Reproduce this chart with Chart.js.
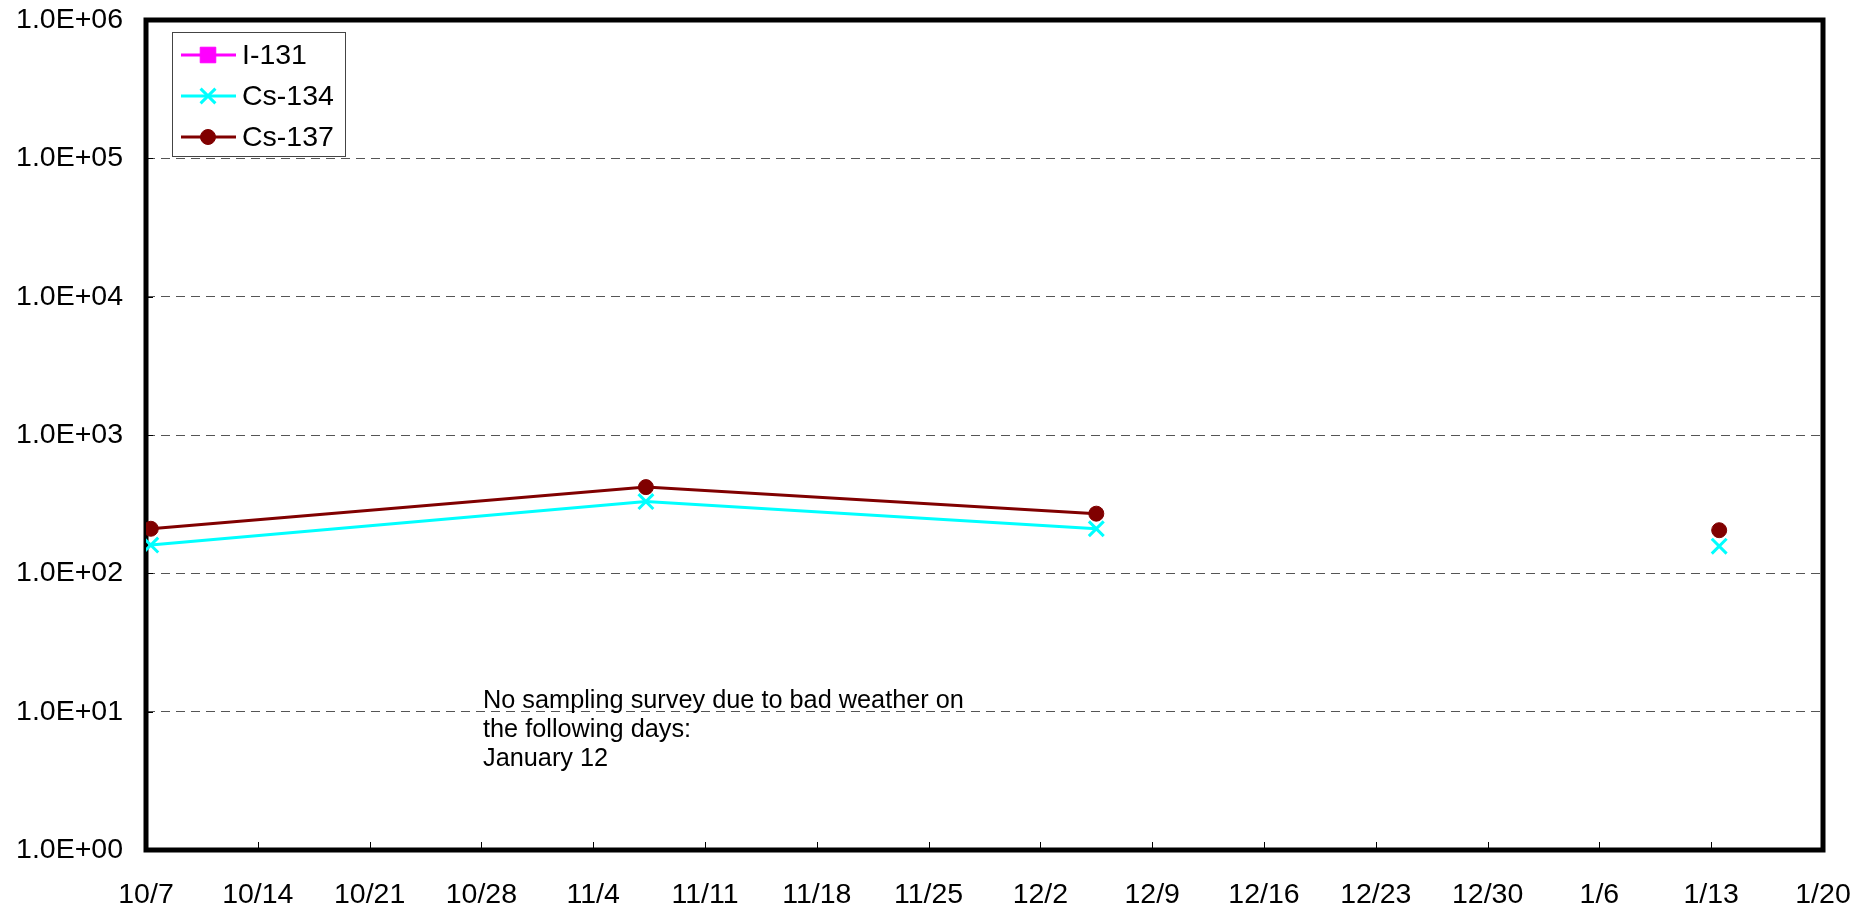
<!DOCTYPE html>
<html>
<head>
<meta charset="utf-8">
<script src="https://cdn.jsdelivr.net/npm/chart.js@4/dist/chart.umd.min.js"></script>
<style>
  html, body { margin: 0; padding: 0; background: #fff; }
</style>
</head>
<body>
<canvas id="chart" width="1869" height="908"></canvas>
<script>
// x axis: days counted from 10/7, one label per week
const xTickLabels = ['10/7', '10/14', '10/21', '10/28', '11/4', '11/11', '11/18', '11/25',
  '12/2', '12/9', '12/16', '12/23', '12/30', '1/6', '1/13', '1/20'];
const sampleDays = [0.3, 31.3, 59.5, 97, 98.5];   // 97 = 1/12, no sampling
const i131 = [null, null, null, null, null];
const cs134 = [160, 330, 210, null, 157];
const cs137 = [210, 420, 270, null, 205];

const yTickValues = [1, 10, 100, 1000, 10000, 100000, 1000000];
const yTickLabels = ['1.0E+00', '1.0E+01', '1.0E+02', '1.0E+03', '1.0E+04', '1.0E+05', '1.0E+06'];

const noteLines = ['No sampling survey due to bad weather on', 'the following days:', 'January 12'];

const FONT = '"Liberation Sans", Arial, sans-serif';

function points(values) {
  return sampleDays.map((d, i) => ({ x: d, y: values[i] }));
}

const framePlugin = {
  id: 'frame',
  beforeDatasetsDraw(chart) {
    const { ctx, chartArea: a, scales } = chart;
    ctx.save();
    // inner tick marks
    ctx.strokeStyle = '#000';
    ctx.lineWidth = 1;
    ctx.beginPath();
    scales.x.ticks.forEach(t => {
      const px = Math.round(scales.x.getPixelForValue(t.value)) + 0.5;
      ctx.moveTo(px, a.bottom);
      ctx.lineTo(px, a.bottom - 8);
    });
    scales.y.ticks.forEach(t => {
      const py = Math.round(scales.y.getPixelForValue(t.value)) + 0.5;
      ctx.moveTo(a.left, py);
      ctx.lineTo(a.left + 7, py);
    });
    ctx.stroke();
    // heavy frame
    ctx.lineWidth = 5;
    ctx.strokeRect(a.left, a.top, a.right - a.left, a.bottom - a.top);
    ctx.restore();
  },
  afterDraw(chart) {
    const { ctx, chartArea: a } = chart;
    ctx.save();
    // legend box
    const bx = a.left + 26, by = a.top + 12, bw = 173, bh = 124;
    ctx.fillStyle = '#fff';
    ctx.fillRect(bx, by, bw, bh);
    ctx.strokeStyle = '#444';
    ctx.lineWidth = 1;
    ctx.strokeRect(bx + 0.5, by + 0.5, bw, bh);
    chart.data.datasets.forEach((ds, i) => {
      const cy = by + 23 + i * 41;
      ctx.strokeStyle = ds.borderColor;
      ctx.lineWidth = ds.borderWidth;
      ctx.beginPath();
      ctx.moveTo(bx + 9, cy);
      ctx.lineTo(bx + 64, cy);
      ctx.stroke();
      ctx.fillStyle = ds.pointBackgroundColor;
      ctx.strokeStyle = ds.pointBorderColor;
      ctx.lineWidth = ds.pointBorderWidth;
      Chart.helpers.drawPoint(ctx, {
        pointStyle: ds.pointStyle, radius: ds.pointRadius,
        borderWidth: ds.pointBorderWidth, rotation: 0
      }, bx + 36, cy);
      ctx.fillStyle = '#000';
      ctx.font = '28.5px ' + FONT;
      ctx.textAlign = 'left';
      ctx.textBaseline = 'middle';
      ctx.fillText(ds.label, bx + 70, cy + 1);
    });
    // note about missing sampling
    ctx.fillStyle = '#000';
    ctx.font = '25.3px ' + FONT;
    ctx.textAlign = 'left';
    ctx.textBaseline = 'middle';
    noteLines.forEach((line, i) => {
      ctx.fillText(line, a.left + 337, a.top + 681.5 + i * 28.6);
    });
    ctx.restore();
  }
};

new Chart(document.getElementById('chart'), {
  type: 'line',
  data: {
    datasets: [
      {
        label: 'I-131',
        data: points(i131),
        borderColor: '#ff00ff',
        backgroundColor: '#ff00ff',
        pointBackgroundColor: '#ff00ff',
        pointBorderColor: '#ff00ff',
        pointStyle: 'rect',
        pointRadius: 11,
        pointBorderWidth: 1,
        borderWidth: 3
      },
      {
        label: 'Cs-134',
        data: points(cs134),
        borderColor: '#00ffff',
        backgroundColor: '#00ffff',
        pointBackgroundColor: '#00ffff',
        pointBorderColor: '#00ffff',
        pointStyle: 'crossRot',
        pointRadius: 10.5,
        pointBorderWidth: 3,
        borderWidth: 3
      },
      {
        label: 'Cs-137',
        data: points(cs137),
        borderColor: '#800000',
        backgroundColor: '#800000',
        pointBackgroundColor: '#800000',
        pointBorderColor: '#800000',
        pointStyle: 'circle',
        pointRadius: 7.5,
        pointBorderWidth: 1,
        borderWidth: 3
      }
    ]
  },
  options: {
    responsive: false,
    animation: false,
    spanGaps: false,
    layout: { padding: { top: 20, right: 46, left: 0, bottom: 0 } },
    plugins: {
      legend: { display: false },
      tooltip: { enabled: false }
    },
    elements: { line: { tension: 0 }, point: { hoverRadius: 0 } },
    scales: {
      x: {
        type: 'linear',
        min: 0,
        max: (xTickLabels.length - 1) * 7,
        afterBuildTicks(scale) {
          scale.ticks = xTickLabels.map((l, i) => ({ value: i * 7 }));
        },
        afterFit(scale) {
          scale.height = 58;
          scale.paddingLeft = 0;
          scale.paddingRight = 0;
        },
        grid: { display: false, drawTicks: false },
        border: { display: false },
        ticks: {
          padding: 28,
          color: '#000',
          font: { family: FONT, size: 28.5 },
          maxRotation: 0,
          autoSkip: false,
          callback: (v, i) => xTickLabels[i]
        }
      },
      y: {
        type: 'logarithmic',
        min: yTickValues[0],
        max: yTickValues[yTickValues.length - 1],
        afterBuildTicks(scale) {
          scale.ticks = yTickValues.map(v => ({ value: v, major: true }));
        },
        afterFit(scale) {
          scale.width = 146;
          scale.paddingTop = 0;
          scale.paddingBottom = 0;
        },
        grid: {
          drawTicks: false,
          color: '#555',
          lineWidth: 1,
          tickLength: 0
        },
        border: { display: false, dash: [9, 6] },
        ticks: {
          padding: 23,
          color: '#000',
          font: { family: FONT, size: 28.5 },
          autoSkip: false,
          callback: (v, i) => yTickLabels[i]
        }
      }
    }
  },
  plugins: [framePlugin]
});
</script>
</body>
</html>
